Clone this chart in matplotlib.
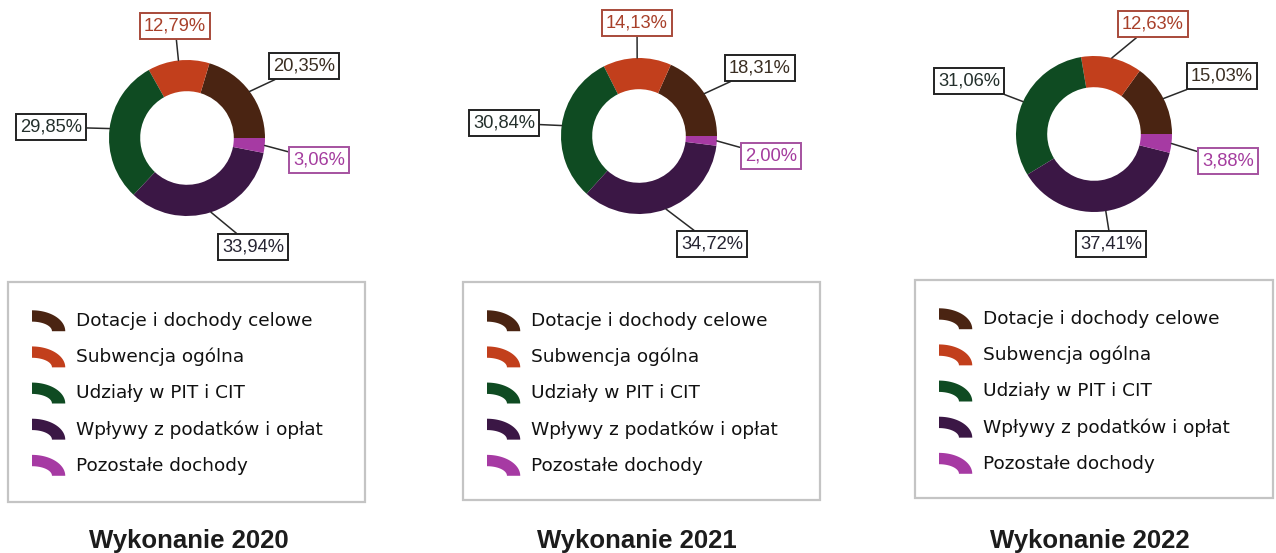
import numpy as np
import matplotlib
matplotlib.use("Agg")
import matplotlib.pyplot as plt
from matplotlib.patches import Polygon, Rectangle, Patch
from matplotlib.legend_handler import HandlerPatch

# ---------------- data ----------------
categories = ["Dotacje i dochody celowe", "Subwencja ogólna", "Udziały w PIT i CIT",
              "Wpływy z podatków i opłat", "Pozostałe dochody"]
years = ["2020", "2021", "2022"]
values_2020 = [20.35, 12.79, 29.85, 33.94, 3.06]
values_2021 = [18.31, 14.13, 30.84, 34.72, 2.00]
values_2022 = [15.03, 12.63, 31.06, 37.41, 3.88]
series = [values_2020, values_2021, values_2022]

# ---------------- style / layout ----------------
colors = ["#4a2412", "#c23f1c", "#0f4b22", "#3b1745", "#a63aa3"]
label_text_colors = ["#3a2e22", "#a8402a", "#24302c", "#262432", "#a43c9e"]
label_edge_colors = ["#222222", "#a84a3a", "#222222", "#222222", "#a552a0"]

W, H = 1276, 553
centers = [(187, 138), (639, 136), (1094, 134)]
radius = 78
label_pos = [
    [(304, 66), (175, 26), (51, 127), (253, 247), (319, 160)],
    [(760, 68), (637, 23), (504, 123), (712, 244), (771, 156)],
    [(1222, 76), (1153, 24), (969, 81), (1111, 244), (1228, 161)],
]
legend_boxes = [(8, 282, 365, 502), (463, 282, 820, 500), (915, 280, 1273, 498)]
title_x = [189, 637, 1090]
title_y = 541

fig = plt.figure(figsize=(W / 100, H / 100), dpi=100)
ax = fig.add_axes([0, 0, 1, 1])


class ArcHandler(HandlerPatch):
    def create_artists(self, legend, orig_handle, xdescent, ydescent, width,
                       height, fontsize, trans):
        t = np.linspace(0, np.pi / 2, 40)
        x0, y0 = -xdescent, -ydescent - 0.14 * height
        a, b = width, height * 1.18
        dx, dy = 0.40 * width, 0.64 * height
        outer = np.column_stack([x0 + a * np.cos(t), y0 + b * np.sin(t)])
        inner = np.column_stack([x0 + (a - dx) * np.cos(t[::-1]),
                                 y0 + (b - dy) * np.sin(t[::-1])])
        p = Polygon(np.vstack([outer, inner]), closed=True,
                    facecolor=orig_handle.get_facecolor(), edgecolor="none",
                    transform=trans)
        return [p]


for i, vals in enumerate(series):
    cx, cy = centers[i]
    wedges, _ = ax.pie(vals, colors=colors, radius=radius, center=(cx, H - cy),
                       startangle=0, counterclock=True,
                       wedgeprops=dict(width=0.4 * radius, edgecolor="none"))
    for j, w in enumerate(wedges):
        mid = np.deg2rad((w.theta1 + w.theta2) / 2)
        xy = (w.center[0] + w.r * np.cos(mid), w.center[1] + w.r * np.sin(mid))
        lx, ly = label_pos[i][j]
        txt = f"{vals[j]:.2f}".replace(".", ",") + "%"
        ax.annotate(txt, xy=xy, xytext=(lx, H - ly), ha="center", va="center",
                    fontsize=13.2, family="Liberation Sans",
                    color=label_text_colors[j],
                    bbox=dict(boxstyle="square,pad=0.24", fc="white",
                              ec=label_edge_colors[j], lw=1.4),
                    arrowprops=dict(arrowstyle="-", color="#2a2a2a", lw=1.1,
                                    shrinkA=0, shrinkB=0),
                    zorder=5)

    # legend box
    x0, y0, x1, y1 = legend_boxes[i]
    ax.add_patch(Rectangle((x0, H - y1), x1 - x0, y1 - y0, fill=False,
                           ec="#c4c4c4", lw=1.6, zorder=1))
    handles = [Patch(facecolor=c) for c in colors]
    fig.legend(handles=handles, labels=categories,
               handler_map={Patch: ArcHandler()},
               loc="upper left", bbox_to_anchor=(x0 + 24, H - (y0 + 29)),
               bbox_transform=ax.transData, frameon=False,
               borderpad=0, borderaxespad=0,
               prop=dict(family="DejaVu Sans", size=13.3),
               handlelength=1.8, handleheight=1.1, handletextpad=0.6,
               labelspacing=0.92, labelcolor="#111111")

    ax.text(title_x[i], H - title_y, f"Wykonanie {years[i]}", ha="center",
            va="center", fontsize=18.5, fontweight="bold",
            family="Liberation Sans", color="#1c1c1c")

ax.set_xlim(0, W)
ax.set_ylim(0, H)
ax.set_aspect("auto")
ax.axis("off")

fig.savefig("out.png", dpi=100, facecolor="white")
